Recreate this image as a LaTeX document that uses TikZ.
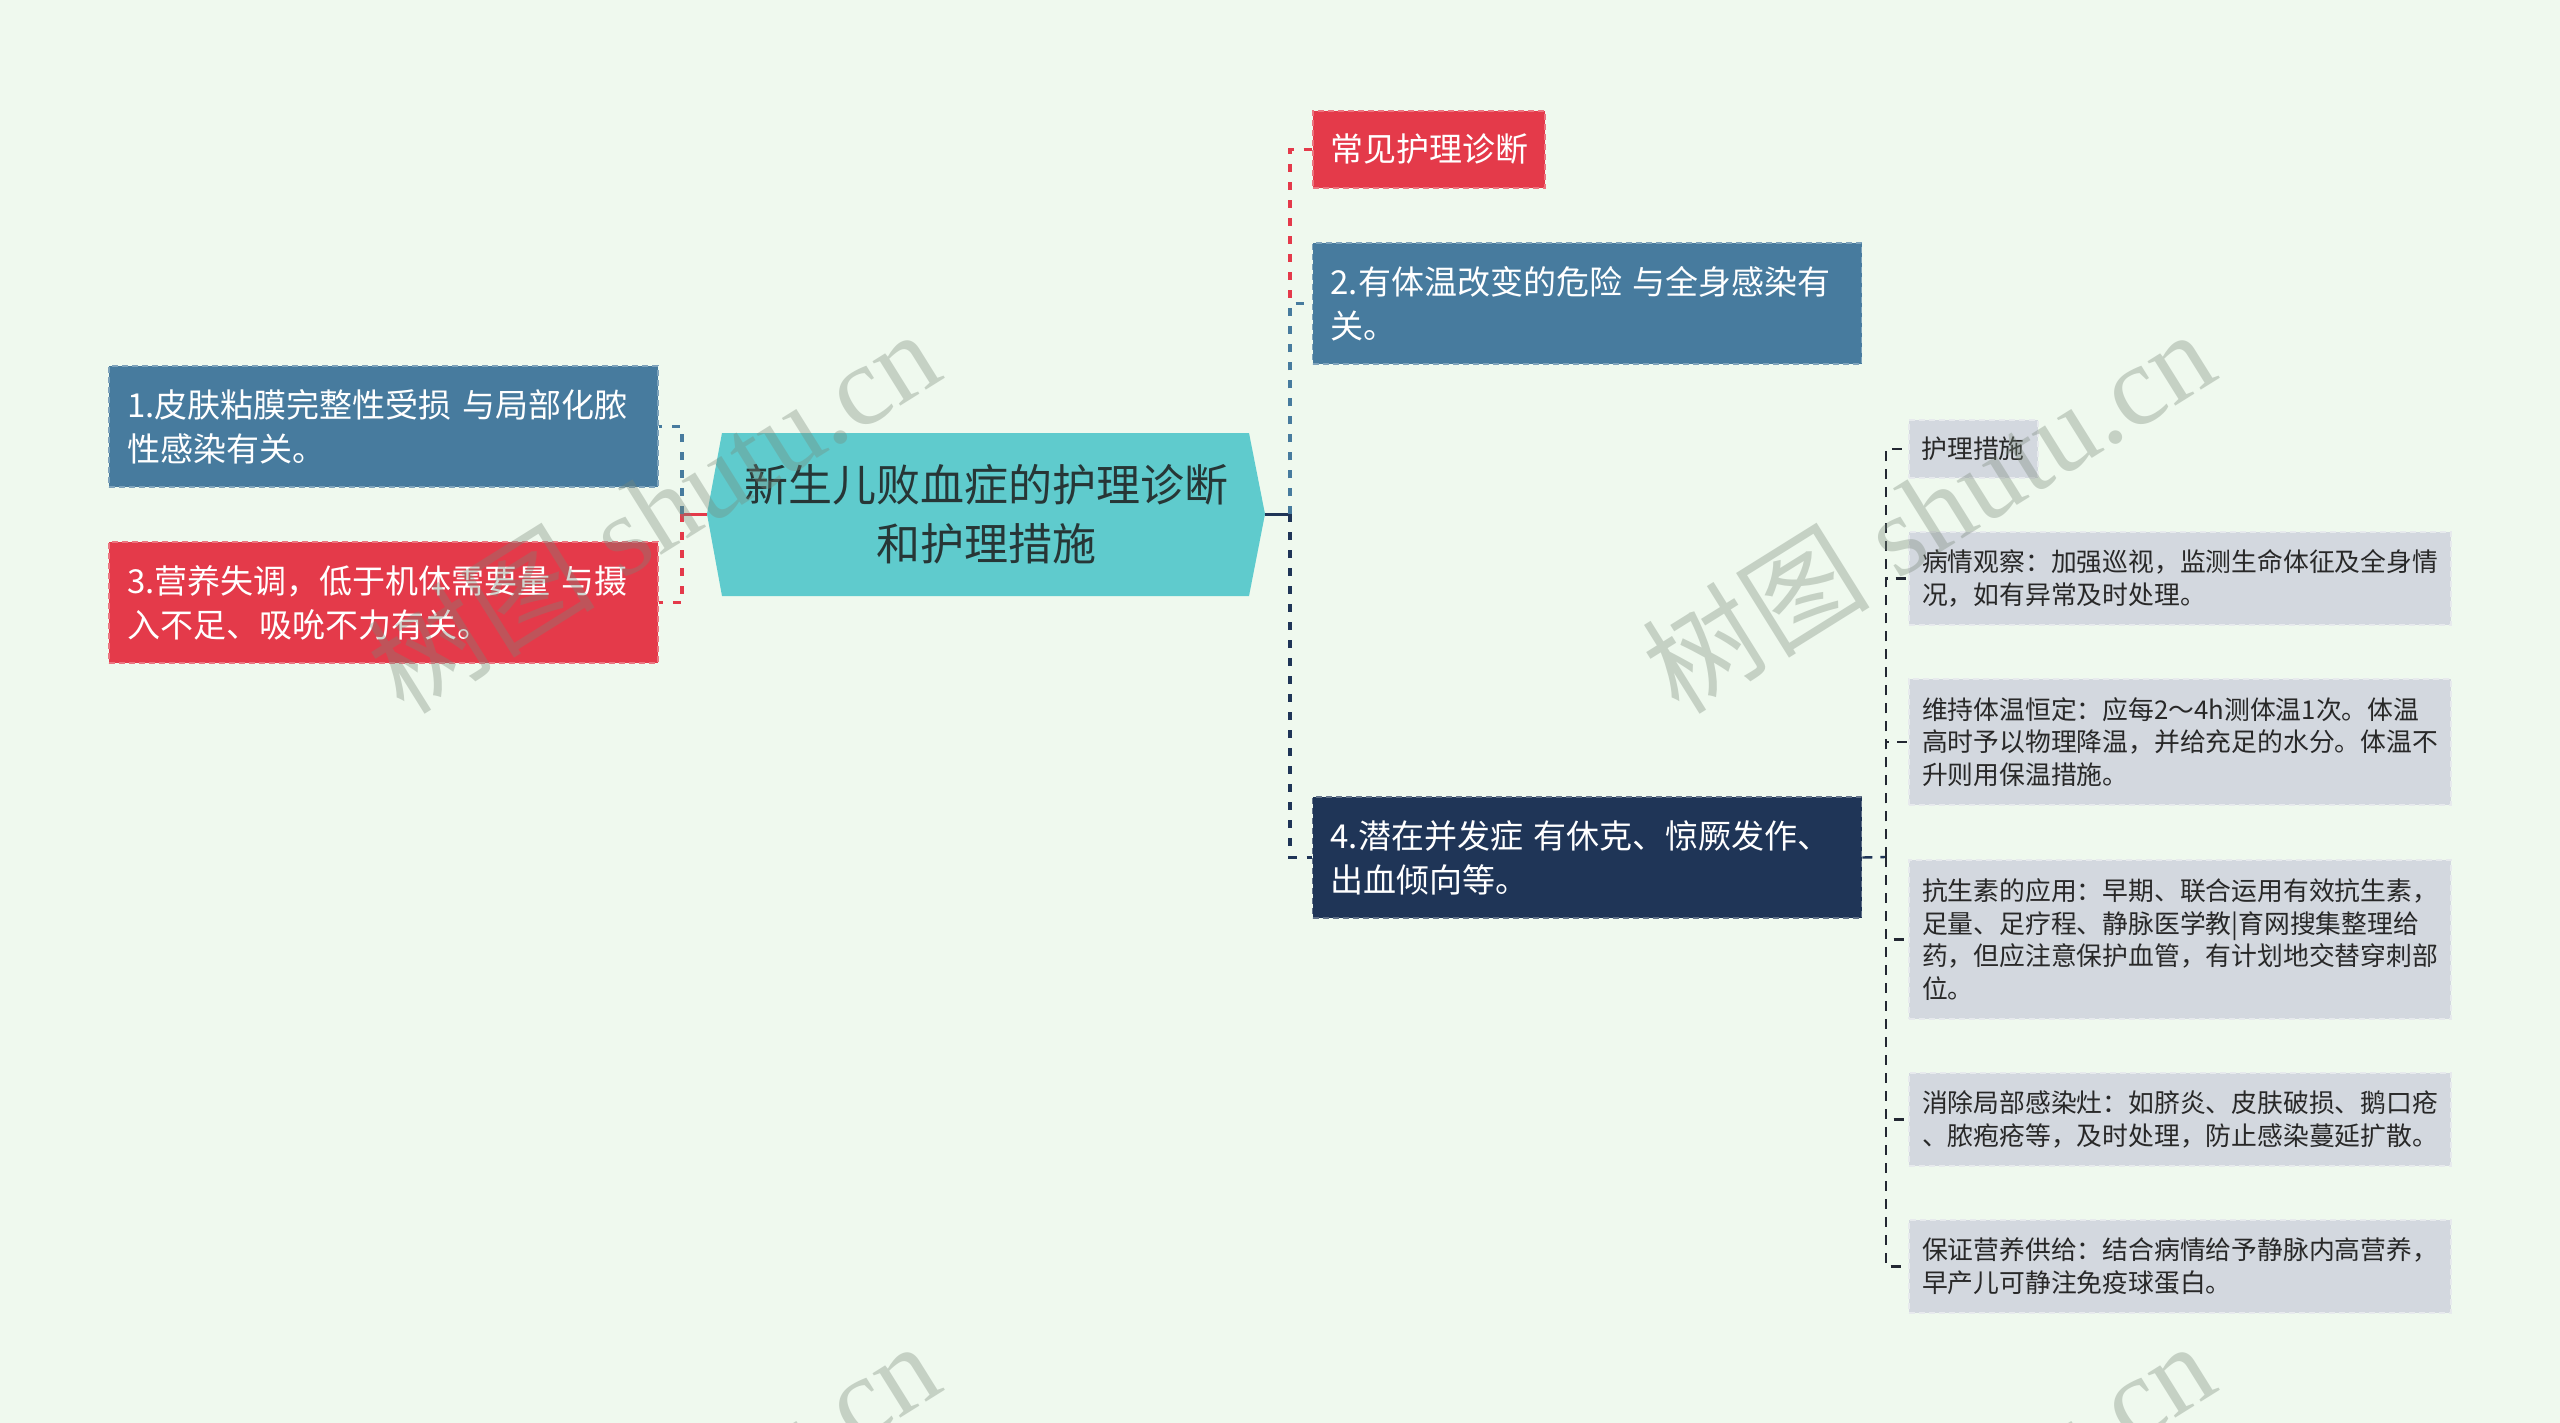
\documentclass[tikz,border=0pt]{standalone}
\usepackage{fontspec}
\setmainfont{Noto Sans CJK SC}
\newfontfamily\wmfont{Liberation Serif}
\newfontfamily\wmcjk{Noto Sans CJK SC}
\definecolor{bgc}{RGB}{239,249,238}
\definecolor{redc}{RGB}{228,58,74}
\definecolor{bluec}{RGB}{71,123,158}
\definecolor{navyc}{RGB}{31,53,87}
\definecolor{tealc}{RGB}{95,203,205}
\definecolor{grayb}{RGB}{211,216,223}
\definecolor{grayt}{RGB}{40,40,40}
\definecolor{ctrt}{RGB}{39,54,54}
\definecolor{linec}{RGB}{35,40,50}
\definecolor{wmc}{RGB}{120,135,120}
\begin{document}
\begin{tikzpicture}[x=0.5pt,y=-0.5pt,
  lone/.style={rectangle, fill=#1, draw=#1!70!white, dash pattern=on 3pt off 2pt, line width=0.8pt,
    text=white, font=\fontsize{16.5}{22}\selectfont, align=left, inner xsep=9pt, inner ysep=0pt,
    text width=256.5pt, minimum height=60.5pt},
  gbox/.style={rectangle, fill=grayb, draw=grayb!55!white, dash pattern=on 3pt off 2pt, line width=0.8pt,
    text=grayt, font=\fontsize{12.9}{16.35}\selectfont, align=left, inner xsep=6.5pt, inner ysep=0pt,
    text width=258pt},
  conn/.style={line width=1.7pt, dash pattern=on 4pt off 5pt},
  gconn/.style={line width=1.2pt, dash pattern=on 5pt off 4pt},
  wm/.style={text=wmc, opacity=0.35, rotate=32, font=\wmfont\fontsize{57}{57}\selectfont}
]
\useasboundingbox (0,0) rectangle (2560,1423);
\fill[bgc] (0,0) rectangle (2560,1423);
\begin{scope}
\clip (0,0) rectangle (2560,1423);

% center hexagon
\fill[tealc] (707,514) -- (722,433) -- (1249,433) -- (1265,514) -- (1249,596) -- (722,596) -- cycle;
\coordinate (cL) at (707,514);
\coordinate (cR) at (1265,514);
\node[text=ctrt, align=center, font=\fontsize{22}{29.5}\selectfont] (ctr) at (986,514) {新生儿败血症的护理诊断\\和护理措施};

% junctions
\coordinate (jl) at (682,514);
\coordinate (jr) at (1290,514);
\coordinate (jg) at (1886,857);

% left boxes
\node[lone=bluec] (b1) at (383.5,426.5) {1.皮肤粘膜完整性受损 与局部化脓\\性感染有关。};
\node[lone=redc] (b3) at (383.5,602.5) {3.营养失调，低于机体需要量 与摄\\入不足、吸吮不力有关。};

% right boxes
\node[lone=redc, text width=99pt, inner xsep=8.5pt, minimum height=38.5pt] (r0) at (1429,149.5) {常见护理诊断};
\node[lone=bluec] (b2) at (1587,303.5) {2.有体温改变的危险 与全身感染有\\关。};
\node[lone=navyc] (b4) at (1587,857.5) {4.潜在并发症 有休克、惊厥发作、\\出血倾向等。};

% gray boxes
\node[gbox, text width=52pt, inner xsep=6.25pt, minimum height=29pt] (g0) at (1973.5,449) {护理措施};
\node[gbox, minimum height=46.5pt] (g1) at (2180,578.5) {病情观察：加强巡视，监测生命体征及全身情\\况，如有异常及时处理。};
\node[gbox, minimum height=63pt] (g2) at (2180,742) {维持体温恒定：应每2～4h测体温1次。体温\\高时予以物理降温，并给充足的水分。体温不\\升则用保温措施。};
\node[gbox, minimum height=79.5pt] (g3) at (2180,939.5) {抗生素的应用：早期、联合运用有效抗生素，\\足量、足疗程、静脉医学教|育网搜集整理给\\药，但应注意保护血管，有计划地交替穿刺部\\位。};
\node[gbox, minimum height=46.5pt] (g4) at (2180,1119.5) {消除局部感染灶：如脐炎、皮肤破损、鹅口疮\\、脓疱疮等，及时处理，防止感染蔓延扩散。};
\node[gbox, minimum height=46.5pt] (g5) at (2180,1266.5) {保证营养供给：结合病情给予静脉内高营养，\\早产儿可静注免疫球蛋白。};

% connectors left
\draw[redc, line width=1.5pt] (cL) -- (jl);
\draw[conn, bluec] (jl) |- (b1.east);
\draw[conn, redc] (jl) |- (b3.east);

% connectors right
\draw[navyc, line width=1.5pt] (cR) -- (jr);
\draw[conn, redc] (jr) |- (r0.west);
\draw[conn, bluec] (jr) |- (b2.west);
\draw[conn, navyc] (jr) |- (b4.west);

% connectors to gray boxes
\draw[gconn, navyc] (b4.east) -- (jg);
\foreach \g in {g0,g1,g2,g3,g4,g5}{
  \draw[gconn, linec] (jg) |- (\g.west);
}

% watermarks
\node[wm] (wm1) at (653,510) {{\wmcjk 树图} shutu.cn};
\node[wm] (wm2) at (1928,510) {{\wmcjk 树图} shutu.cn};
\node[wm] (wm3) at (653,1522) {{\wmcjk 树图} shutu.cn};
\node[wm] (wm4) at (1928,1522) {{\wmcjk 树图} shutu.cn};
\end{scope}
\end{tikzpicture}
\end{document}
